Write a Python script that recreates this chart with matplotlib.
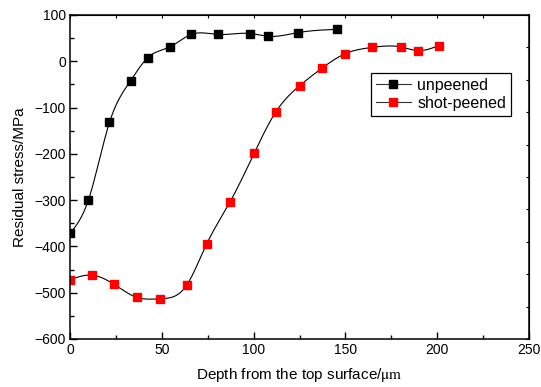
import matplotlib
matplotlib.use('Agg')
import matplotlib.pyplot as plt
import numpy as np

plt.rcParams['font.family'] = ['Liberation Sans', 'DejaVu Sans']
plt.rcParams['mathtext.fontset'] = 'stix'

# depth (um) and residual stress (MPa)
unp_x = [0, 10, 21.5, 33, 42.4, 54.4, 66, 80.6, 98.3, 108, 124.3, 145.6]
unp_y = [-372, -300, -132, -42, 8, 31, 58, 58, 60, 54, 62, 69]

shot_x = [0, 11.8, 24, 36.4, 49.1, 63.5, 74.4, 87, 100.4, 112, 125, 137.2, 149.7, 164.7, 180.1, 189.8, 200.9]
shot_y = [-472, -462, -482, -510, -513, -484, -395, -305, -198, -110, -53, -15, 16, 30, 31, 23, 34]


def spline(x, y, n=400):
    # natural cubic spline, only used to draw the smooth connecting line
    x = np.asarray(x, float)
    y = np.asarray(y, float)
    k = len(x)
    h = np.diff(x)
    A = np.zeros((k, k))
    b = np.zeros(k)
    A[0, 0] = A[-1, -1] = 1
    for i in range(1, k - 1):
        A[i, i - 1] = h[i - 1]
        A[i, i] = 2 * (h[i - 1] + h[i])
        A[i, i + 1] = h[i]
        b[i] = 6 * ((y[i + 1] - y[i]) / h[i] - (y[i] - y[i - 1]) / h[i - 1])
    M = np.linalg.solve(A, b)
    xs = np.linspace(x[0], x[-1], n)
    idx = np.clip(np.searchsorted(x, xs) - 1, 0, k - 2)
    x0, x1 = x[idx], x[idx + 1]
    hh = x1 - x0
    t0 = x1 - xs
    t1 = xs - x0
    ys = (M[idx] * t0 ** 3 + M[idx + 1] * t1 ** 3) / (6 * hh) \
        + (y[idx] / hh - M[idx] * hh / 6) * t0 \
        + (y[idx + 1] / hh - M[idx + 1] * hh / 6) * t1
    return xs, ys


fig = plt.figure(figsize=(5.41, 3.87), dpi=100)
ax = fig.add_axes([70 / 541, 1 - 339 / 387, 459 / 541, 324 / 387])

xs, ys = spline(unp_x, unp_y)
ax.plot(xs, ys, color='black', lw=0.8)
xs, ys = spline(shot_x, shot_y)
ax.plot(xs, ys, color='black', lw=0.8)
ax.plot(unp_x, unp_y, ls='none', marker='s', ms=6.2, color='black')
ax.plot(shot_x, shot_y, ls='none', marker='s', ms=6.2, color='red')

# legend proxies
h1, = ax.plot([], [], color='#333333', lw=0.8, marker='s', ms=6.2, mfc='black', mec='black')
h2, = ax.plot([], [], color='#333333', lw=0.8, marker='s', ms=6.2, mfc='red', mec='red')
leg = ax.legend([h1, h2], ['unpeened', 'shot-peened'], loc='upper right',
                bbox_to_anchor=(0.961, 0.821), borderaxespad=0, fancybox=False,
                edgecolor='black', fontsize=11.5, numpoints=1, handlelength=2.2,
                handletextpad=0.4, borderpad=0.3, labelspacing=0.2, framealpha=1)
leg.get_frame().set_linewidth(0.9)

ax.set_xlim(0, 250)
ax.set_ylim(-600, 100)
ax.set_xticks([0, 50, 100, 150, 200, 250])
ax.set_xticks([25, 75, 125, 175, 225], minor=True)
ax.set_yticks(np.arange(-600, 101, 100))
ax.set_yticks(np.arange(-550, 100, 100), minor=True)
ax.tick_params(which='major', direction='in', length=5, width=1, labelsize=10, pad=3)
ax.tick_params(which='minor', direction='in', length=3, width=1)
for s in ax.spines.values():
    s.set_linewidth(1.1)

# top and right axes carry only small ticks
top = ax.secondary_xaxis('top')
top.set_xticks(np.arange(0, 251, 25))
top.tick_params(direction='in', length=2.5, width=0.8, labeltop=False)
right = ax.secondary_yaxis('right')
right.set_yticks(np.linspace(-600, 100, 11))
right.tick_params(direction='in', length=2.5, width=0.8, labelright=False)

ax.set_xlabel(r'Depth from the top surface/$\mathrm{\mu m}$', fontsize=11, labelpad=6)
ax.set_ylabel('Residual stress/MPa', fontsize=11, labelpad=5)

fig.savefig('out.png', dpi=100)
